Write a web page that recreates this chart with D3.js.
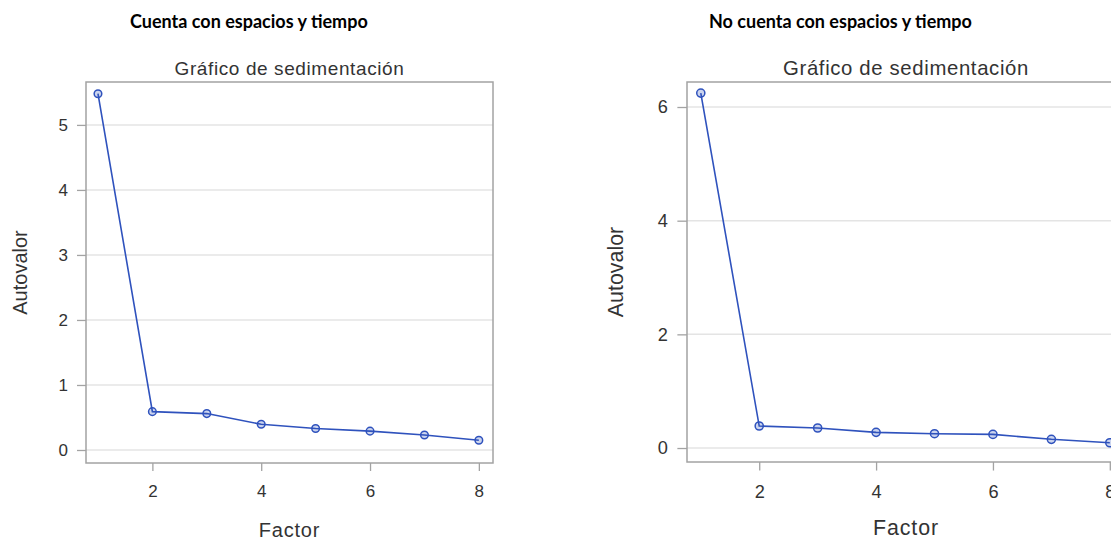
<!DOCTYPE html>
<html>
<head>
<meta charset="utf-8">
<script src="https://cdn.jsdelivr.net/npm/d3@7"></script>
<style>
  body { margin: 0; background: #fff; }
  svg { display: block; }
  .axis text { font-family: "Liberation Sans", Arial, sans-serif; fill: #333; }
</style>
</head>
<body>
<svg class="scree"></svg>
<script>
const factors = [1, 2, 3, 4, 5, 6, 7, 8];
const autovaloresCon = [5.48, 0.59, 0.56, 0.395, 0.33, 0.29, 0.23, 0.15];
const autovaloresSin = [6.245, 0.387, 0.352, 0.276, 0.252, 0.24, 0.153, 0.093];
const xTicks = [2, 4, 6, 8];
const yTicksCon = [0, 1, 2, 3, 4, 5];
const yTicksSin = [0, 2, 4, 6];
const encabezados = ['Cuenta con espacios y tiempo', 'No cuenta con espacios y tiempo'];

const svg = d3.select('.scree')
	.attr('width', 1111)
	.attr('height', 540);

const blue = '#2f52bd';
const frameColor = '#a3a3a3';

const drawPanel = p => {
	const k = p.scale; // size factor of each pasted picture
	const data = factors.map((f, i) => ({ factor: f, value: p.values[i] }));

	const xScale = d3.scaleLinear()
		.domain(p.xDomain)
		.range([p.left, p.right]);

	const yScale = d3.scaleLinear()
		.domain(p.yDomain)
		.range([p.bottom, p.top]);

	const g = svg.append('g');

	// bold heading above the picture
	g.append('text')
		.attr('x', p.headX)
		.attr('y', 28)
		.attr('font-family', 'Lato, "Open Sans", sans-serif')
		.attr('font-weight', 'bold')
		.attr('font-size', 18)
		.attr('fill', '#000')
		.text(p.heading);

	g.append('text')
		.attr('x', (p.left + p.right) / 2)
		.attr('y', 75)
		.attr('text-anchor', 'middle')
		.attr('font-family', '"Liberation Sans", Arial, sans-serif')
		.attr('font-size', 19 * k)
		.attr('letter-spacing', 0.6 * k)
		.attr('fill', '#333')
		.text('Gráfico de sedimentación');

	// grid
	g.append('g')
		.selectAll('line')
		.data(p.yTicks)
		.enter()
		.append('line')
			.attr('x1', p.left)
			.attr('x2', p.right)
			.attr('y1', d => yScale(d))
			.attr('y2', d => yScale(d))
			.attr('stroke', '#e4e4e4')
			.attr('stroke-width', 1.5);

	const yAxis = d3.axisLeft(yScale)
		.tickValues(p.yTicks)
		.tickFormat(d3.format('d'))
		.tickSize(9 * k)
		.tickPadding(9 * k);

	const yAxisG = g.append('g')
		.attr('class', 'axis')
		.attr('transform', `translate(${p.left}, 0)`)
		.call(yAxis);
	yAxisG.select('.domain').remove();
	yAxisG.selectAll('line').attr('stroke', frameColor).attr('stroke-width', 1.3);
	yAxisG.selectAll('text').attr('font-size', 17 * k);

	const xAxis = d3.axisBottom(xScale)
		.tickValues(xTicks)
		.tickFormat(d3.format('d'))
		.tickSize(8 * k)
		.tickPadding(14 * k);

	const xAxisG = g.append('g')
		.attr('class', 'axis')
		.attr('transform', `translate(0, ${p.bottom})`)
		.call(xAxis);
	xAxisG.select('.domain').remove();
	xAxisG.selectAll('line').attr('stroke', frameColor).attr('stroke-width', 1.3);
	xAxisG.selectAll('text').attr('font-size', 17 * k);

	xAxisG.append('text')
		.attr('x', (p.left + p.right) / 2)
		.attr('y', p.factorY - p.bottom)
		.attr('text-anchor', 'middle')
		.attr('font-size', 20 * k)
		.attr('letter-spacing', 0.8 * k)
		.text('Factor');

	g.append('text')
		.attr('transform', `translate(${p.labelX}, ${(p.top + p.bottom) / 2}) rotate(-90)`)
		.attr('text-anchor', 'middle')
		.attr('font-family', '"Liberation Sans", Arial, sans-serif')
		.attr('font-size', 20 * k)
		.attr('fill', '#333')
		.text('Autovalor');

	// frame
	g.append('rect')
		.attr('x', p.left)
		.attr('y', p.top)
		.attr('width', p.right - p.left)
		.attr('height', p.bottom - p.top)
		.attr('fill', 'none')
		.attr('stroke', frameColor)
		.attr('stroke-width', 1.5);

	const line = d3.line()
		.x(d => xScale(d.factor))
		.y(d => yScale(d.value));

	g.append('path')
		.datum(data)
		.attr('d', line)
		.attr('fill', 'none')
		.attr('stroke', blue)
		.attr('stroke-width', 1.6);

	g.selectAll('circle')
		.data(data)
		.enter()
		.append('circle')
			.attr('cx', d => xScale(d.factor))
			.attr('cy', d => yScale(d.value))
			.attr('r', 3.8 * k)
			.attr('fill', 'rgba(47,82,189,0.25)')
			.attr('stroke', blue)
			.attr('stroke-width', 1.5);
};

drawPanel({
	heading: encabezados[0],
	headX: 130,
	values: autovaloresCon,
	yTicks: yTicksCon,
	xDomain: [0.78, 8.26],
	yDomain: [-0.2, 5.66],
	left: 86, right: 493, top: 82, bottom: 463,
	labelX: 27, factorY: 537,
	scale: 1
});

drawPanel({
	heading: encabezados[1],
	headX: 709,
	values: autovaloresSin,
	yTicks: yTicksSin,
	xDomain: [0.764, 8.26],
	yDomain: [-0.246, 6.44],
	left: 687, right: 1125, top: 82, bottom: 462,
	labelX: 623, factorY: 535,
	scale: 1.07
});
</script>
</body>
</html>
